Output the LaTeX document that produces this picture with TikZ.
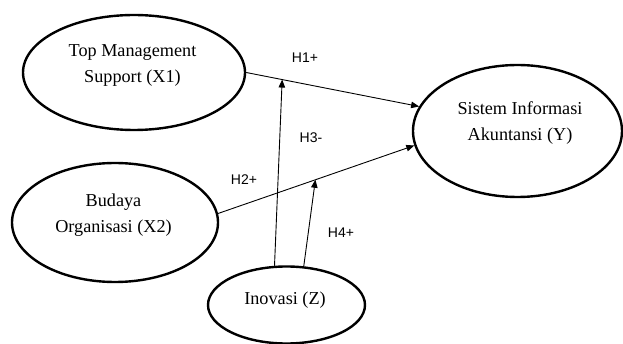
\documentclass[tikz,border=0pt]{standalone}
\usepackage{fontspec}
\setmainfont{Liberation Serif}
\newfontfamily\labfont{Liberation Sans}
\usetikzlibrary{shapes.geometric,arrows.meta}
\begin{document}
\begin{tikzpicture}[x=1pt,y=-1pt,
  var/.style={ellipse,draw,line width=2.4pt,inner sep=0pt},
  vtext/.style={font=\fontsize{18.2}{26}\selectfont,align=center,inner sep=0pt},
  hlab/.style={font=\labfont\fontsize{14}{16}\selectfont,inner sep=0pt},
  conn/.style={line width=0.9pt,-{Triangle[length=8pt,width=6.5pt]}},
  plainconn/.style={line width=0.9pt}]
\useasboundingbox (0,0) rectangle (623,344);
% variables
\node[var,minimum width=222pt,minimum height=115pt] (x1) at (134,72.5) {};
\node[vtext] (x1t) at (132.5,65) {Top Management\\Support (X1)};
\node[var,minimum width=209pt,minimum height=132pt] (y) at (517.5,131) {};
\node[vtext] (yt) at (520,123) {Sistem Informasi\\Akuntansi (Y)};
\node[var,minimum width=206pt,minimum height=119pt] (x2) at (115,222.5) {};
\node[vtext] (x2t) at (113.5,215.5) {Budaya\\Organisasi (X2)};
\node[var,minimum width=157pt,minimum height=77pt] (z) at (286.5,305) {};
\node[vtext] (zt) at (285,300) {Inovasi (Z)};
% direct paths
\draw[conn] (x1.east) -- (y.166) coordinate[pos=0.208] (h3t);
\draw[conn] (x2.5) -- (y.188) coordinate[pos=0.496] (h4t);
% moderation paths
\draw[conn] (z.107) -- (h3t);
\draw[conn] (z.66) -- (h4t);
% labels
\node[hlab] (l1) at (305,58) {H1+};
\node[hlab] (l2) at (244,180) {H2+};
\node[hlab] (l3) at (311,138) {H3-};
\node[hlab] (l4) at (341,233) {H4+};
\end{tikzpicture}
\end{document}
